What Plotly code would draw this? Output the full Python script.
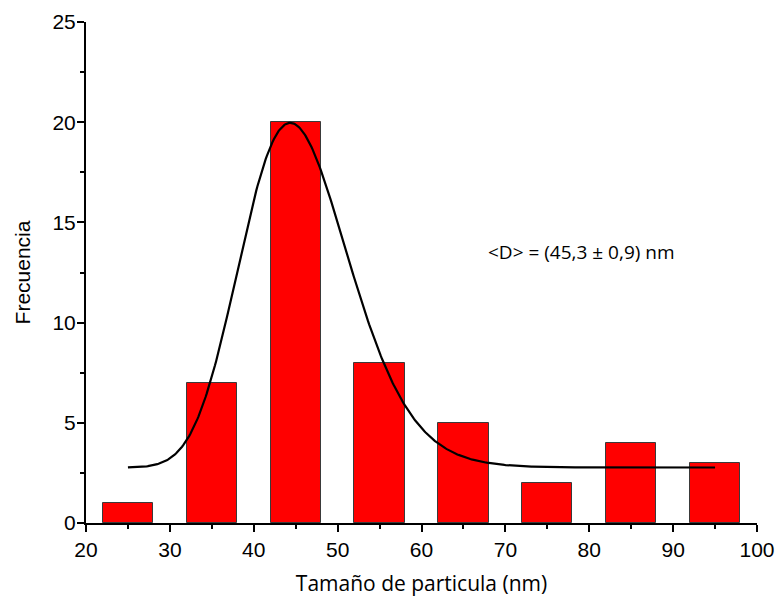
import numpy as np
import plotly.graph_objects as go

# Particle-size histogram (bin centres in nm) and counts
bin_centers = [25, 35, 45, 55, 65, 75, 85, 95]
counts = [1, 7, 20, 8, 5, 2, 4, 3]
bar_width = 6

# Log-normal fit: y = y0 + A / (sqrt(2*pi) * w * x) * exp(-ln(x/xc)^2 / (2 w^2))
fit_y0 = 2.77
fit_A = 280.2
fit_xc = 45.3
fit_w = 0.145
fit_range = (25, 95)

x_fit = np.linspace(fit_range[0], fit_range[1], 500)
y_fit = fit_y0 + fit_A / (np.sqrt(2 * np.pi) * fit_w * x_fit) * np.exp(
    -np.log(x_fit / fit_xc) ** 2 / (2 * fit_w ** 2)
)

fig = go.Figure()
fig.add_trace(go.Bar(
    x=bin_centers, y=counts, width=bar_width,
    marker=dict(color="#ff0000", line=dict(color="#3a3a3a", width=1)),
    showlegend=False, hoverinfo="x+y",
))
fig.add_trace(go.Scatter(
    x=x_fit, y=y_fit, mode="lines",
    line=dict(color="black", width=2.2),
    showlegend=False,
))

fig.add_annotation(
    x=0.739, y=0.541, xref="paper", yref="paper",
    text="&lt;D&gt; = (45,3 ± 0,9) nm", showarrow=False,
    xanchor="center", yanchor="middle",
    font=dict(family="Open Sans", size=19, color="black"),
)

axis_common = dict(
    showgrid=False, zeroline=False, automargin=False,
    showline=True, linecolor="black", linewidth=2,
    ticks="outside", ticklen=7, tickwidth=2, tickcolor="black",
    tickfont=dict(family="Liberation Sans, Arial", size=21, color="black"),
)

fig.update_xaxes(
    range=[20, 100], tick0=20, dtick=10,
    minor=dict(ticks="outside", ticklen=4, tickwidth=2, tickcolor="black", dtick=5, tick0=20),
    title=dict(text="Tamaño de particula (nm)", standoff=16,
               font=dict(family="Open Sans", size=21, color="black")),
    **axis_common,
)
fig.update_yaxes(
    range=[0, 25], tick0=0, dtick=5, ticklabelstandoff=-3,
    minor=dict(ticks="outside", ticklen=4, tickwidth=2, tickcolor="black", dtick=2.5, tick0=0),
    title=dict(text="Frecuencia", standoff=16,
               font=dict(family="Liberation Sans, Arial", size=21, color="black")),
    **axis_common,
)

fig.update_layout(
    width=779, height=598,
    margin=dict(l=86, r=22, t=22, b=75),
    paper_bgcolor="white", plot_bgcolor="white",
    bargap=0,
)

fig.write_html("out.html")
